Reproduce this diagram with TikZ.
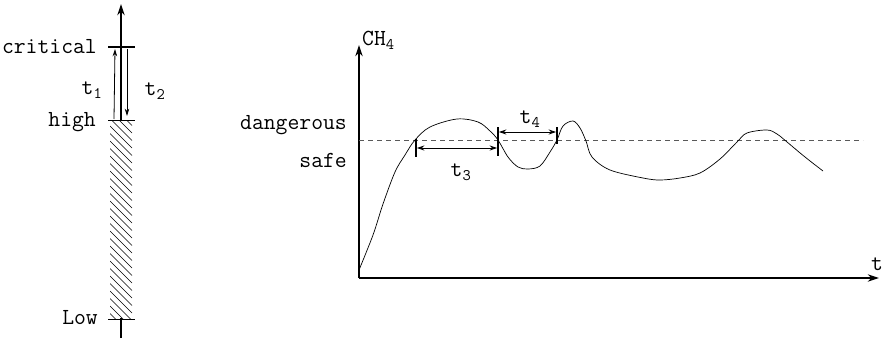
\documentclass[tikz,border=0pt]{standalone}
\usepackage{fontspec}
\usetikzlibrary{arrows.meta,positioning}

\begin{document}
\begin{tikzpicture}[x=1pt,y=-1pt,font=\ttfamily\fontsize{23}{26}\selectfont,
  lbl/.style={inner sep=1pt},
  axis/.style={line width=1.2pt,-{Stealth[length=4mm,width=2.6mm]}},
  bar/.style={line width=1pt},
  hatch/.style={line width=0.6pt},
  tick/.style={line width=1.4pt},
  span/.style={line width=0.8pt,{Stealth[length=2.6mm,width=1.8mm]}-{Stealth[length=2.6mm,width=1.8mm]}},
  move/.style={line width=0.8pt,-{Stealth[length=2.6mm,width=1.6mm]}},
  level/.style={line width=0.8pt,black!65,dash pattern=on 5pt off 4pt}]
\useasboundingbox (0,0) rectangle (884,340);

%% left: level scale
\coordinate (bot) at (121,338);
\coordinate (top) at (121,4);
\draw[axis] (bot) -- (top);
\fill[white] (110,120) rectangle (132,318);
\begin{scope}
  \clip (110,120) rectangle (132,318);
  \foreach \k in {0,...,30}
    \draw[hatch] (110,96+7.5*\k) -- ++(22,22);
\end{scope}
\draw[line width=1.6pt] (108,47) coordinate (crl) -- (135,47) coordinate (crr);
\draw[bar] (108,120) coordinate (hil) -- (135,120) coordinate (hir);
\draw[bar] (108,319) coordinate (lol) -- (135,319) coordinate (lor);

\node[lbl,anchor=east] (critical) at (98,47) {critical};
\node[lbl,anchor=east] (high) at (97,122) {high};
\node[lbl,anchor=east] (low) at (99,318) {Low};

%% switching times
\coordinate (up0) at (114,119);
\coordinate (up1) at (115,49);
\coordinate (dn0) at (127,49);
\coordinate (dn1) at (127,116);
\draw[move] (up0) -- (up1);
\draw[move] (dn0) -- (dn1);
\node[lbl] (t1) at (92,90) {t\textsubscript{1}};
\node[lbl] (t2) at (155,91) {t\textsubscript{2}};

%% right: CH4 over time
\coordinate (o) at (359,278);
\coordinate (ytop) at (359,45);
\coordinate (xend) at (879,278);
\draw[axis] (o) -- (ytop);
\draw[axis] (o) -- (xend);
\node[lbl,anchor=west] (ch4) at (361,40) {CH\textsubscript{4}};
\node[lbl] (tax) at (877,264) {t};

\draw[level] (359,140) -- (863,140);
\node[lbl,anchor=east] (dang) at (348,125) {dangerous};
\node[lbl,anchor=east] (safe) at (348,160) {safe};

\draw[line width=0.7pt] plot[smooth,tension=0.55] coordinates {
  (359,270) (373,235) (383,204) (395,172) (405,155) (415,140)
  (430,127) (457,119) (478,122) (490,131) (498,140) (508,157) (518,167)
  (528,169) (540,166) (550,152) (557,140) (563,126) (573,121) (580,128)
  (586,141) (592,157) (610,170) (643,178) (660,180) (680,178) (700,173)
  (720,159) (737,142) (747,133) (767,130) (777,134) (787,142) (805,157) (823,171)};

%% time spans above / below the threshold
\draw[tick] (416,139) coordinate (a0) -- (416,157);
\draw[tick] (498,127) coordinate (b0) -- (498,156);
\draw[tick] (557,127) coordinate (c0) -- (557,144);
\coordinate (a1) at (417,148);
\coordinate (b1) at (497,148);
\coordinate (b2) at (499,132);
\coordinate (c1) at (556,132);
\draw[span] (a1) -- (b1);
\draw[span] (b2) -- (c1);
\node[lbl] (t3) at (461,172) {t\textsubscript{3}};
\node[lbl] (t4) at (530,119) {t\textsubscript{4}};
\end{tikzpicture}
\end{document}
